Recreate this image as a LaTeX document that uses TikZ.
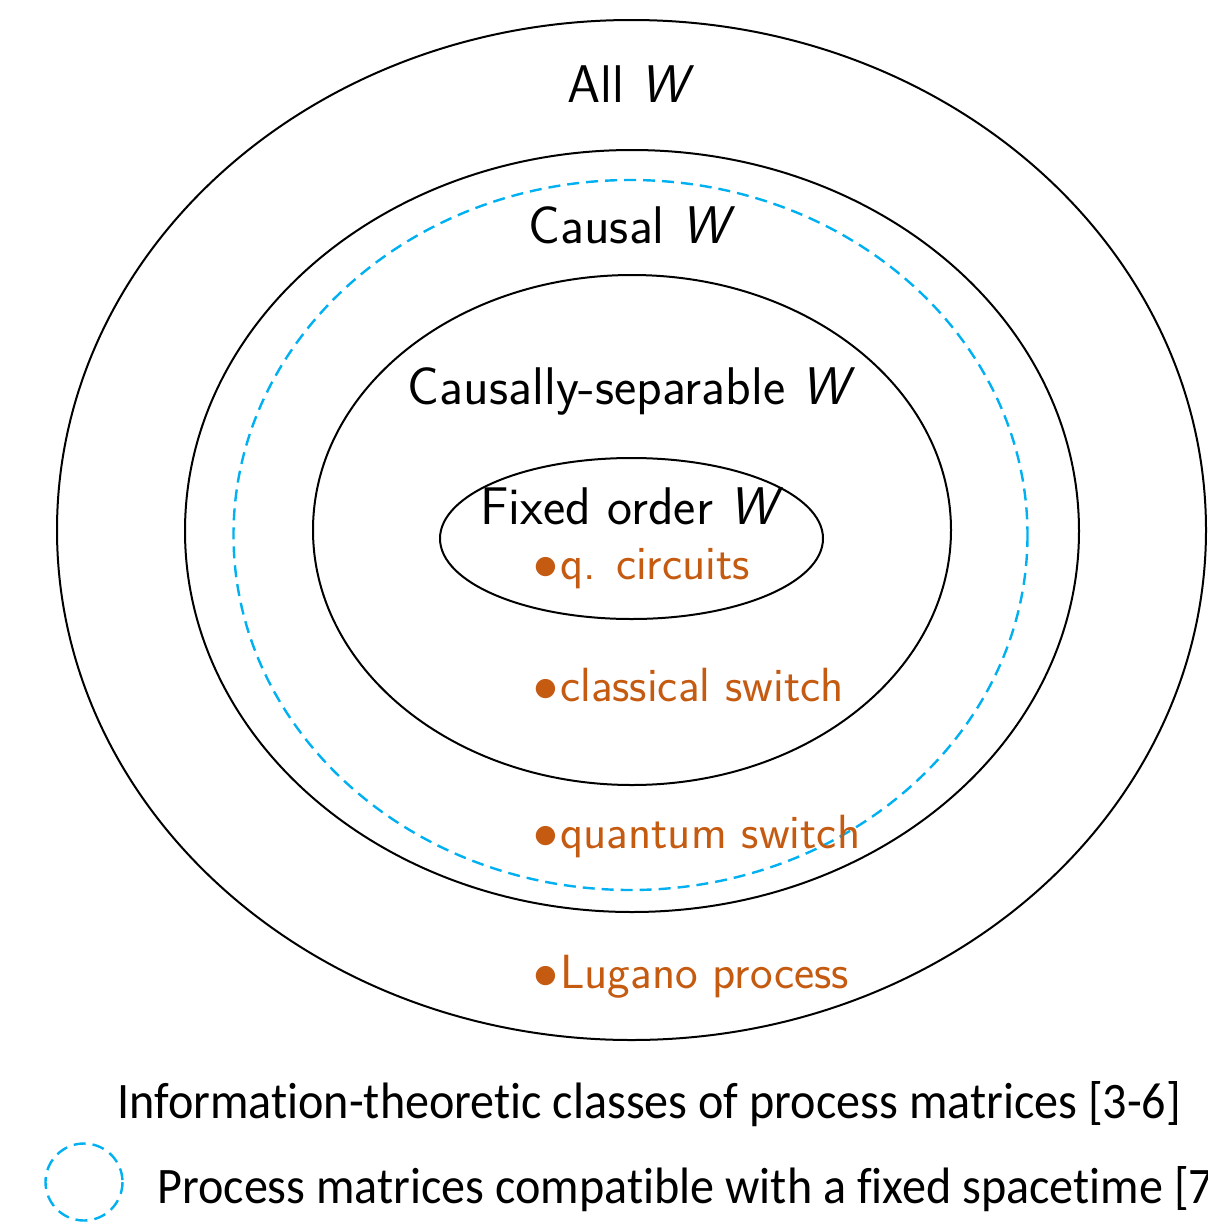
\documentclass[tikz,border=0pt]{standalone}
\usepackage{fontspec}
\usepackage{graphicx}
\newfontfamily\legendfont[Ligatures=NoCommon]{Carlito}
\definecolor{procorange}{RGB}{197,90,17}
\definecolor{spaceblue}{RGB}{0,176,240}
\newcommand{\legendtext}[1]{\scalebox{0.94}[1]{#1}}
\begin{document}
\begin{tikzpicture}[x=0.5pt,y=-0.5pt,
  setline/.style={draw=black,line width=1pt},
  spacetime/.style={draw=spaceblue,line width=1.2pt,dash pattern=on 6pt off 3.5pt},
  classlabel/.style={anchor=base,inner sep=0pt,font=\sffamily\fontsize{26.5}{30}\selectfont},
  example/.style={anchor=base west,inner sep=0pt,text=procorange,font=\sffamily\fontsize{24}{28}\selectfont},
  legend/.style={anchor=base west,inner sep=0pt,font=\legendfont\fontsize{25.6}{30}\selectfont}]
\useasboundingbox (0,0) rectangle (1207,1227);
% nested classes of process matrices
\draw[setline] (631.5,530) ellipse [x radius=574.5,y radius=510];
\draw[setline] (632,531) ellipse [x radius=447,y radius=381];
\draw[spacetime] (630.5,535) ellipse [x radius=397,y radius=355];
\draw[setline] (632,530) ellipse [x radius=319,y radius=255];
\draw[setline] (631.5,538.5) ellipse [x radius=191.5,y radius=80.5];
% class names
\node[classlabel] (all) at (631,102) {All \textit{W}};
\node[classlabel] (causal) at (632,243) {Causal \textit{W}};
\node[classlabel] (sep) at (632,404) {Causally-separable \textit{W}};
\node[classlabel] (fixed) at (632,524) {Fixed order \textit{W}};
% examples
\node[example] (qc) at (533,579) {$\bullet$\hspace{1pt}q. circuits};
\node[example] (cs) at (533,701) {$\bullet$\hspace{1pt}classical switch};
\node[example] (qs) at (533,848) {$\bullet$\hspace{1pt}quantum switch};
\node[example] (lp) at (533,988) {$\bullet$\hspace{1pt}Lugano process};
% legend
\node[legend] (leg1) at (117,1118) {\legendtext{Information-theoretic classes of process matrices [3-6]}};
\draw[spacetime] (84,1182) circle [radius=38.5];
\node[legend] (leg2) at (157,1203) {\legendtext{Process matrices compatible with a fixed spacetime [7}};
\end{tikzpicture}
\end{document}
